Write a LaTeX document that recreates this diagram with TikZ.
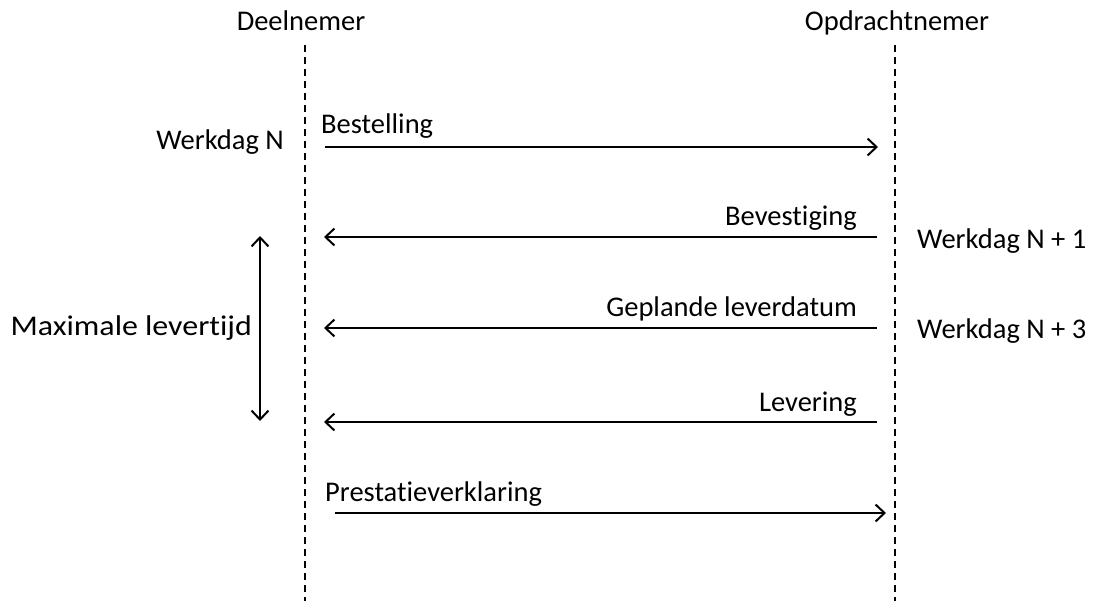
\documentclass[tikz,border=0pt]{standalone}
\usepackage{fontspec}
\setmainfont[Ligatures={NoCommon}]{Carlito}
\usetikzlibrary{arrows.meta}
\begin{document}
\begin{tikzpicture}[x=1pt,y=-1pt,
  lbl/.style={font=\fontsize{28.5}{32}\selectfont, inner sep=0pt},
  life/.style={line width=2pt, dash pattern=on 7pt off 5pt},
  tip/.style={},
  msg/.style={line width=2pt, -{Straight Barb[length=9pt,width=17pt,line width=2pt]}},
  dbl/.style={line width=2pt, {Straight Barb[length=9pt,width=17pt,line width=2pt]}-{Straight Barb[length=9pt,width=17pt,line width=2pt]}}]
\useasboundingbox (0,0) rectangle (1095,601);
% headers
\node[lbl, anchor=base] (deel) at (301,31) {Deelnemer};
\node[lbl, anchor=base] (opd) at (897,31) {Opdrachtnemer};
% lifelines
\coordinate (lt) at (305,45);
\coordinate (lb) at (305,601);
\coordinate (rt) at (895,45);
\coordinate (rb) at (895,601);
\draw[life] (lt) -- (lb);
\draw[life] (rt) -- (rb);
% message endpoints
\coordinate (a1) at (325,147); \coordinate (b1) at (878,147);
\coordinate (a2) at (877,237); \coordinate (b2) at (324,237);
\coordinate (a3) at (877,328); \coordinate (b3) at (324,328);
\coordinate (a4) at (877,422); \coordinate (b4) at (324,422);
\coordinate (a5) at (335,513); \coordinate (b5) at (886,513);
\draw[msg] (a1) -- (b1);
\draw[msg] (a2) -- (b2);
\draw[msg] (a3) -- (b3);
\draw[msg] (a4) -- (b4);
\draw[msg] (a5) -- (b5);
% message labels
\node[lbl, anchor=base west] (m1) at (321,134) {Bestelling};
\node[lbl, anchor=base east] (m2) at (857,226) {Bevestiging};
\node[lbl, anchor=base east] (m3) at (857,317) {Geplande leverdatum};
\node[lbl, anchor=base east] (m4) at (857,411) {Levering};
\node[lbl, anchor=base west] (m5) at (325,501) {Prestatieverklaring};
% side labels
\node[lbl, anchor=base east] (w0) at (284,150) {Werkdag N};
\node[lbl, anchor=base west] (w1) at (917,249) {Werkdag N + 1};
\node[lbl, anchor=base west] (w3) at (917,339) {Werkdag N + 3};
\node[lbl, anchor=base east] (ml) at (252,336) {\scalebox{1.12}[1]{Maximale levertijd}};
% double arrow
\coordinate (d1) at (260,236);
\coordinate (d2) at (260,421);
\draw[dbl] (d1) -- (d2);
\end{tikzpicture}
\end{document}
